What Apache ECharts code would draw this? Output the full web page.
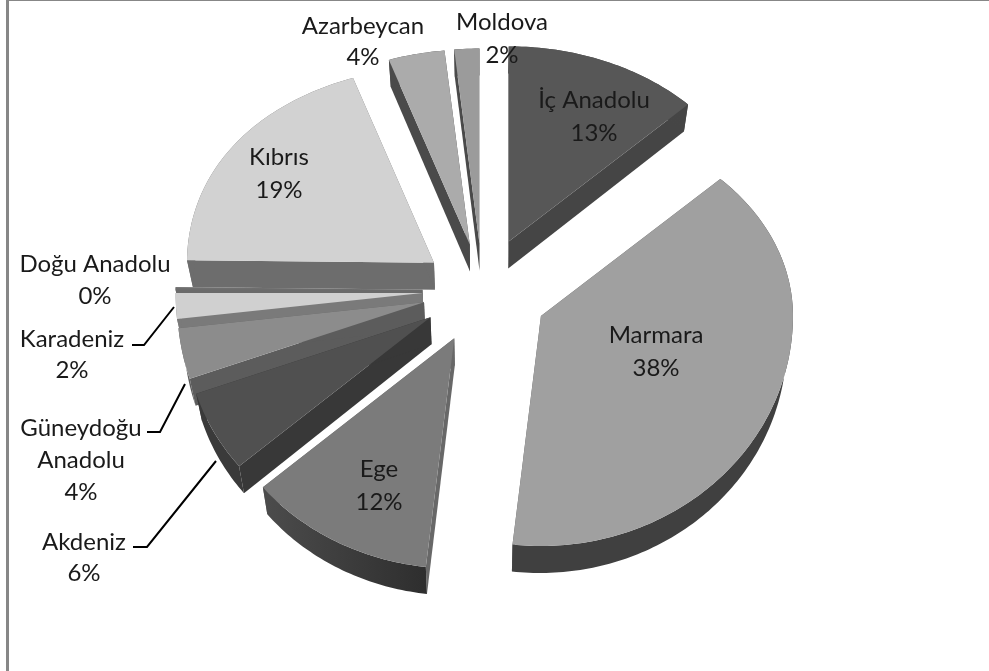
<!DOCTYPE html>
<html>
<head>
<meta charset="utf-8">
<style>html,body{margin:0;padding:0;background:#fff}#c{width:989px;height:671px}</style>
<script src="https://cdn.jsdelivr.net/npm/echarts@6/dist/echarts.min.js"></script>
</head>
<body>
<div id="c"></div>
<script>
// ---- data (start at 12 o'clock, clockwise) ----
const categories = ['İç Anadolu','Marmara','Ege','Akdeniz','Güneydoğu Anadolu','Karadeniz','Doğu Anadolu','Kıbrıs','Azarbeycan','Moldova'];
const shares = [12.6,39.2,12.0,5.8,3.6,1.8,0.2,19.6,3.6,1.6];
const tickPercent = ['13%','38%','12%','6%','4%','2%','0%','19%','4%','2%'];

// ---- presentation ----
const explode = [68,65,60,60,60,60,60,60,60,60];
const paintOrder = [2,8,9,7,6,5,4,3,1,0];
const topColor  = ['#575757','#a0a0a0','#7b7b7b','#505050','#8c8c8c','#d0d0d0','#6e6e6e','#d2d2d2','#ababab','#9b9b9b'];
const rimColor  = [['#474747','#454545'],['#404040','#404040'],['#4c4c4c','#2e2e2e'],['#3a3a3a','#3a3a3a'],['#5c5c5c','#5c5c5c'],['#7a7a7a','#7a7a7a'],['#6a6a6a','#6a6a6a'],['#6d6d6d','#6d6d6d'],['#4a4a4a','#4a4a4a'],['#4a4a4a','#4a4a4a']];
const cutColor  = [['#454545','#454545'],['#5a5a5a','#5a5a5a'],['#686868','#686868'],['#383838','#383838'],['#5c5c5c','#5c5c5c'],['#7a7a7a','#7a7a7a'],['#6a6a6a','#6a6a6a'],['#6d6d6d','#6d6d6d'],['#4a4a4a','#4a4a4a'],['#4a4a4a','#4a4a4a']];
const labelPos = {
  'İç Anadolu':[594,100,33],'Marmara':[656,335,33],'Ege':[379,469,33],'Akdeniz':[84,542,31],
  'Güneydoğu Anadolu':[81,428,32],'Karadeniz':[72,339,31],'Doğu Anadolu':[95,264,32],
  'Kıbrıs':[279,157,33],'Azarbeycan':[363,26,31],'Moldova':[502,22,33]
};
const leaders = {
  'Akdeniz':[[133,547],[147,547],[216,461]],
  'Güneydoğu Anadolu':[[147,432],[160,432],[185,384]],
  'Karadeniz':[[132,345],[144,345],[174,307]]
};
const CX=482.5, CY=290, R=252, LEFT_SQUEEZE=0.02, KBACK=0.774, KFRONT=0.913, DEPTH=27, PERSP=0.98;

const total = shares.reduce((a,b)=>a+b,0);
const startAngles = shares.map((_,i)=>shares.slice(0,i).reduce((a,b)=>a+b,0)/total*Math.PI*2);

function plane(r,a,squeezeLeft){ // pie-plane polar -> offset in chart units
  const u=r*Math.sin(a), v=-r*Math.cos(a);
  const sq=(squeezeLeft&&u<0)?1-LEFT_SQUEEZE*Math.pow(Math.sin(a),6):1;
  return [u*sq, v*(v<0?KBACK:KFRONT)];
}
function renderItem(params,api){
  const i=api.value(0);
  const a0=startAngles[i], a1=a0+shares[i]/total*Math.PI*2, mid=(a0+a1)/2;
  const off=plane(explode[i],mid,false);
  const ox=CX+off[0], oy=CY+off[1];
  const apex=[ox,oy];
  const arc=[];
  const n=Math.max(2,Math.ceil((a1-a0)/(Math.PI/180)));
  for(let k=0;k<=n;k++){
    const p=plane(R,a0+(a1-a0)*k/n,true);
    arc.push([ox+p[0],oy+p[1]]);
  }
  const low=p=>[CX+(p[0]-CX)*PERSP,p[1]+DEPTH];
  const px=p=>api.coord(p);
  const poly=(pts,fill,z)=>({type:'polygon',z2:z,shape:{points:pts.map(px)},style:{fill,stroke:null}});
  const grad=(pair)=>pair[0]===pair[1]?pair[0]:new echarts.graphic.LinearGradient(0,0,1,0,[{offset:0,color:pair[0]},{offset:1,color:pair[1]}]);
  const base=paintOrder[i]*10+10;
  const kids=[];
  kids.push(poly([apex,arc[0],low(arc[0]),low(apex)],cutColor[i][0],base));
  kids.push(poly([apex,arc[n],low(arc[n]),low(apex)],cutColor[i][1],base+1));
  kids.push(poly(arc.concat(arc.map(low).reverse()),grad(rimColor[i]),base+2));
  kids.push(poly([apex].concat(arc),topColor[i],base+3));
  const name=categories[i];
  if(leaders[name]){
    kids.push({type:'polyline',z2:400,shape:{points:leaders[name].map(px)},style:{stroke:'#000',lineWidth:2,fill:null}});
  }
  const lp=labelPos[name], c=px([lp[0],lp[1]]);
  const lines=(name==='Güneydoğu Anadolu'?['Güneydoğu','Anadolu']:[name]).concat([tickPercent[i]]);
  lines.forEach((t,k)=>{
    kids.push({type:'text',z2:500,style:{text:t,x:c[0],y:c[1]+k*lp[2],align:'center',verticalAlign:'middle',
      fontFamily:'Lato',fontSize:24,fill:'#1a1a1a'}});
  });
  return {type:'group',children:kids};
}
const chart=echarts.init(document.getElementById('c'),null,{renderer:'canvas'});
chart.setOption({
  animation:false,
  backgroundColor:'#fff',
  grid:{left:0,right:0,top:0,bottom:0},
  xAxis:{type:'value',min:0,max:989,show:false},
  yAxis:{type:'value',min:0,max:671,inverse:true,show:false},
  graphic:[
    {type:'rect',left:6,top:0,shape:{width:3,height:671},style:{fill:'#878787'},silent:true},
    {type:'rect',left:6,top:0,shape:{width:983,height:1},style:{fill:'#878787'},silent:true}
  ],
  series:[{
    type:'custom',
    coordinateSystem:'cartesian2d',
    renderItem,
    clip:false,
    encode:{x:0,y:1},
    data:categories.map((c,i)=>[i,shares[i],c])
  }]
});
</script>
</body>
</html>
